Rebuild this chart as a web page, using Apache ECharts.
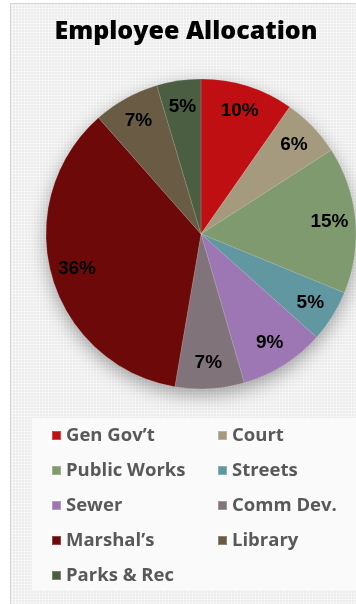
<!DOCTYPE html>
<html><head><meta charset="utf-8">
<script src="https://cdn.jsdelivr.net/npm/echarts@6/dist/echarts.min.js"></script>
<style>
html,body{margin:0;padding:0;background:#fff;width:356px;height:604px;overflow:hidden}
#bg{position:absolute;left:10px;top:3px;width:360px;height:620px;border-left:1px solid #d6d6d6;border-top:1px solid #d6d6d6;
background-color:#ececec;background-image:radial-gradient(#fbfbfb 0.9px, transparent 1.1px);background-size:3px 3px}
#chart{position:absolute;left:0;top:0;width:356px;height:604px}
</style></head>
<body><div id="bg"></div><div id="chart"></div>
<script>
const title = "Employee Allocation";
const categories = ["Gen Gov’t","Court","Public Works","Streets","Sewer","Comm Dev.","Marshal’s","Library","Parks & Rec"];
const shares = [9.7, 6.2, 15.3, 5.4, 8.9, 7.2, 35.8, 6.9, 4.6];
const colors = ["#bf0f13","#a59a7e","#7f9a6e","#6197a1","#9d77b3","#80737a","#6e0909","#6a5b45","#4b5e42"];

const data = categories.map((c,i)=>({name:c, value:shares[i], itemStyle:{color:colors[i]}}));
const total = shares.reduce((a,b)=>a+b,0);
const leftCol = categories.filter((c,i)=>i%2===0);
const rightCol = categories.filter((c,i)=>i%2===1);
const legendText = {fontFamily:'Open Sans', fontWeight:'bold', fontSize:18.5, color:'#595959', lineHeight:18};

const chart = echarts.init(document.getElementById('chart'), null, {renderer:'canvas'});
chart.setOption({
  animation:false,
  backgroundColor:'transparent',
  graphic:[
    {type:'rect', left:32, top:418, shape:{width:330, height:172}, style:{fill:'#fafafa'}, z:-1},
    {type:'text', x:186, y:32, style:{text:title, textAlign:'center', textVerticalAlign:'middle',
      fontFamily:'Open Sans', fontWeight:800, fontSize:25, fill:'#000'}, z:10}
  ],
  legend:[
    {data:leftCol, orient:'vertical', left:51, top:426, padding:0, itemWidth:9, itemHeight:9, itemGap:16, icon:'rect', textStyle:legendText, selectedMode:false},
    {data:rightCol, orient:'vertical', left:217, top:426, padding:0, itemWidth:9, itemHeight:9, itemGap:16, icon:'rect', textStyle:legendText, selectedMode:false}
  ],
  series:[
    {type:'pie', center:[201,234], radius:[0,155], silent:true, z:1,
      data:[{name:'_total', value:total}], label:{show:false}, labelLine:{show:false},
      itemStyle:{color:'#bbb', shadowBlur:18, shadowColor:'rgba(0,0,0,0.35)', shadowOffsetY:6}},
    {type:'pie', center:[201,234], radius:[0,155], startAngle:90, clockwise:true, z:2,
      data:data, label:{show:false}, labelLine:{show:false},
      itemStyle:{borderColor:'rgba(255,255,255,0.25)', borderWidth:0.5}},
    {type:'pie', center:[201,234], radius:[97,155], startAngle:90, clockwise:true, z:3, silent:true,
      data:categories.map((c,i)=>({name:c, value:shares[i]})),
      itemStyle:{color:'rgba(0,0,0,0)'}, legendHoverLink:false,
      label:{show:true, position:'inside', formatter:p=>Math.round(p.value)+'%',
        fontFamily:'Liberation Sans, Arial', fontWeight:'bold', fontSize:19, color:'#000'},
      labelLine:{show:false}}
  ]
});
</script></body></html>
